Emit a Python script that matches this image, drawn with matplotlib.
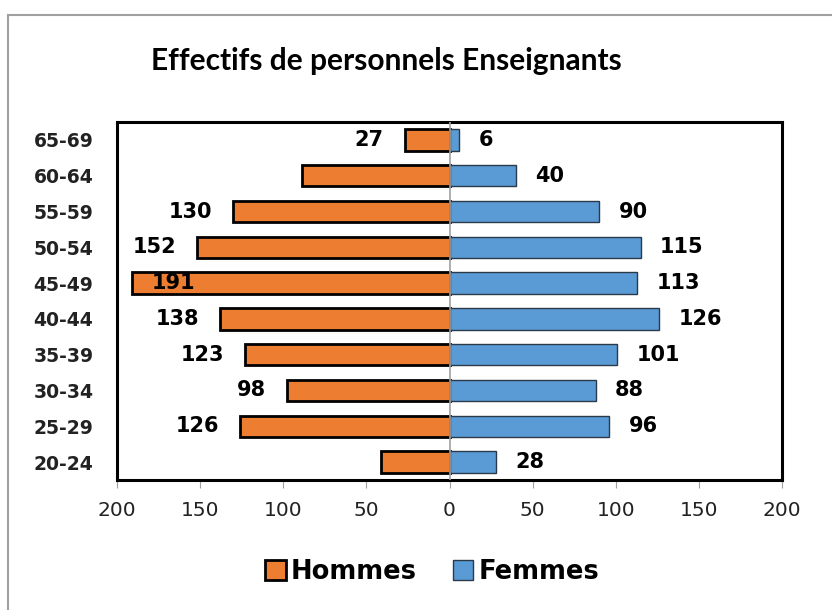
import matplotlib.pyplot as plt
from matplotlib.patches import Rectangle, Patch

ages = ['20-24', '25-29', '30-34', '35-39', '40-44', '45-49', '50-54', '55-59', '60-64', '65-69']
hommes = [41, 126, 98, 123, 138, 191, 152, 130, 89, 27]
femmes = [28, 96, 88, 101, 126, 113, 115, 90, 40, 6]
# labels shown in the chart (Excel hid a couple of them)
hommes_lbl = ['', '126', '98', '123', '138', '191', '152', '130', '', '27']
femmes_lbl = ['28', '96', '88', '101', '126', '113', '115', '90', '40', '6']

orange = '#ED7D31'
blue = '#5B9BD5'

fig = plt.figure(figsize=(8.32, 6.10), dpi=100)
ax = fig.add_axes([117/832, 1-480/610, (782-117)/832, (480-122)/610])

y = range(len(ages))
ax.barh(y, [-v for v in hommes], height=0.6, color=orange, edgecolor='black', linewidth=2, zorder=3)
ax.barh(y, femmes, height=0.6, color=blue, edgecolor='#2b3a4a', linewidth=1, zorder=3)

ax.axvline(0, color='#a0a0a0', linewidth=1.2, zorder=4)

for i in y:
    if hommes_lbl[i]:
        if hommes[i] > 175:
            ax.annotate(hommes_lbl[i], (-200, i), xytext=(25, 0), textcoords='offset points',
                        ha='left', va='center', fontsize=15, fontweight='bold', zorder=5)
        else:
            ax.annotate(hommes_lbl[i], (-hommes[i], i), xytext=(-15, 0), textcoords='offset points',
                        ha='right', va='center', fontsize=15, fontweight='bold')
    if femmes_lbl[i]:
        ax.annotate(femmes_lbl[i], (femmes[i], i), xytext=(14, 0), textcoords='offset points',
                    ha='left', va='center', fontsize=15, fontweight='bold')

ax.set_xlim(-200, 200)
ax.set_ylim(-0.5, len(ages) - 0.5)
ax.set_xticks(range(-200, 201, 50))
ax.set_xticklabels([str(abs(t)) for t in range(-200, 201, 50)], fontsize=14.5, color='#222222')
ax.set_yticks(list(y))
ax.set_yticklabels(ages, fontsize=13.5, fontweight='bold', color='#222222')
ax.tick_params(axis='y', length=0, pad=17)
ax.tick_params(axis='x', length=6, color='#a0a0a0', pad=9, direction='out')
for s in ax.spines.values():
    s.set_linewidth(2.2)
    s.set_color('black')

fig.text(386/832, 1-61/610, 'Effectifs de personnels Enseignants', ha='center', va='center',
         fontsize=21.5, fontweight='bold', family='Lato')

handles = [Patch(facecolor=orange, edgecolor='black', linewidth=2, label='Hommes'),
           Patch(facecolor=blue, edgecolor='#2b3a4a', linewidth=1, label='Femmes')]
fig.legend(handles=handles, loc='center', bbox_to_anchor=(432/832, 1-572/610), ncol=2, frameon=False,
           prop={'size': 18.5, 'weight': 'bold'}, handlelength=0.8, handleheight=0.8,
           handletextpad=0.2, columnspacing=1.4)

fig.patches.append(Rectangle((8/832, -0.1), 1.0, 1-15/610 + 0.1, transform=fig.transFigure,
                             fill=False, edgecolor='#a0a0a0', linewidth=1.5))

fig.savefig('out.png', dpi=100)
